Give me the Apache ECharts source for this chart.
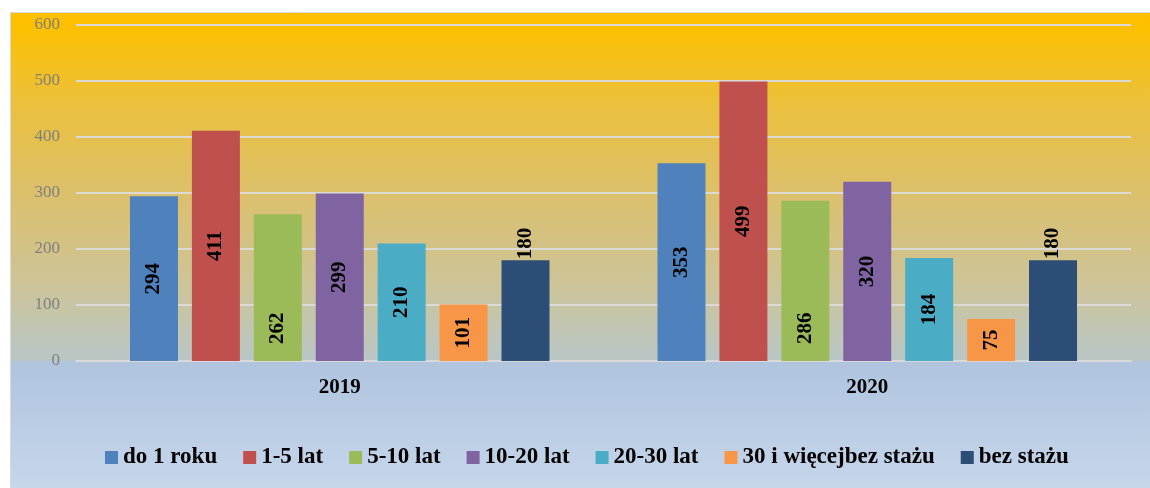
<!DOCTYPE html>
<html>
<head>
<meta charset="utf-8">
<title>Staż pracy 2019-2020</title>
<script src="https://cdn.jsdelivr.net/npm/echarts@6/dist/echarts.min.js"></script>
<style>
  html, body { margin: 0; padding: 0; background: #fff; }
  #chart { width: 1150px; height: 488px; }
</style>
</head>
<body>
<div id="chart"></div>
<script>
// dane
const years = ["2019", "2020"];
const seriesNames = ["do 1 roku", "1-5 lat", "5-10 lat", "10-20 lat", "20-30 lat", "30 i więcejbez stażu", "bez stażu"];
const doRoku = [294, 353];
const lat1_5 = [411, 499];
const lat5_10 = [262, 286];
const lat10_20 = [299, 320];
const lat20_30 = [210, 184];
const lat30 = [101, 75];
const bezStazu = [180, 180];

const values = [doRoku, lat1_5, lat5_10, lat10_20, lat20_30, lat30, bezStazu];
const colors = ["#4F81BD", "#C0504D", "#9BBB59", "#8064A2", "#4BACC6", "#F79646", "#2C4D75"];
const font = "'Liberation Serif', 'DejaVu Serif', serif";

// where each series puts its value label (like Excel: center / base / outside end)
const labelModes = ["mid", "mid", "base", "mid", "mid", "mid", "top"];

function labelFor(mode) {
  let lab = {
    show: true,
    rotate: 90,
    color: "#000",
    fontFamily: font,
    fontWeight: "bold",
    fontSize: 21
  };
  if (mode == "base") {
    lab.position = "insideBottom";
    lab.align = "left";
    lab.verticalAlign = "middle";
    lab.distance = 17;
  } else if (mode == "top") {
    lab.position = "top";
    lab.align = "left";
    lab.verticalAlign = "middle";
    lab.distance = 1;
  } else {
    lab.position = "inside";
    lab.align = "center";
    lab.verticalAlign = "middle";
  }
  return lab;
}

const series = seriesNames.map(function (name, i) {
  return {
    name: name,
    type: "bar",
    data: values[i],
    barWidth: 48,
    barGap: "29%",
    itemStyle: { color: colors[i] },
    label: labelFor(labelModes[i])
  };
});

const chart = echarts.init(document.getElementById("chart"), null, { renderer: "canvas" });
const option = {
  animation: false,
  graphic: [
    {
      type: "rect",
      z: -10,
      silent: true,
      shape: { x: 10.5, y: 12.5, width: 1160, height: 500 },
      style: {
        stroke: "#D9D9D9",
        lineWidth: 1,
        fill: {
          type: "linear", global: true,
          x: 0, y: 12, x2: 0, y2: 488,
          colorStops: [
            { offset: 0, color: "#FFC000" },
            { offset: 0.03, color: "#FDC000" },
            { offset: 0.2, color: "#EAC03E" },
            { offset: 0.4, color: "#DAC070" },
            { offset: 0.58, color: "#CCC49A" },
            { offset: 0.732, color: "#B9C6C6" },
            { offset: 0.735, color: "#B0C4DE" },
            { offset: 1, color: "#C6D6EB" }
          ]
        }
      }
    }
  ],
  legend: {
    data: seriesNames,
    top: 441,
    left: 100,
    itemWidth: 13,
    itemHeight: 13,
    itemGap: 26,
    icon: "rect",
    textStyle: {
      color: "#000",
      fontFamily: font,
      fontWeight: "bold",
      fontSize: 23
    }
  },
  grid: {
    left: 76,
    right: 19,
    top: 25,
    bottom: 127,
    containLabel: false
  },
  xAxis: {
    type: "category",
    data: years,
    axisLine: { lineStyle: { color: "#D9D9D9", width: 2 } },
    axisTick: { show: false },
    axisLabel: {
      color: "#000",
      fontFamily: font,
      fontWeight: "bold",
      fontSize: 21,
      margin: 16
    }
  },
  yAxis: {
    type: "value",
    min: 0,
    max: 600,
    interval: 100,
    axisLine: { show: false },
    axisTick: { show: false },
    splitLine: { lineStyle: { color: "#DCDAD4", width: 2 } },
    axisLabel: {
      color: "#7F7F7F",
      fontFamily: font,
      fontSize: 17,
      margin: 16
    }
  },
  series: series
};
chart.setOption(option);
</script>
</body>
</html>
